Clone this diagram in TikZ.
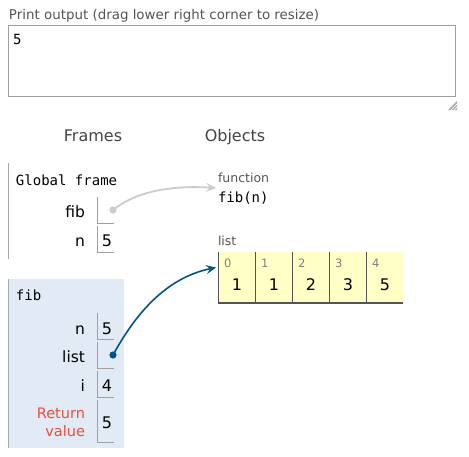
\documentclass[tikz,border=0pt]{standalone}
\usepackage{fontspec}
\setmainfont{DejaVu Sans}
\setmonofont{DejaVu Sans Mono}
\usetikzlibrary{arrows.meta}
\definecolor{hdr}{HTML}{444444}
\definecolor{objlbl}{HTML}{555555}
\definecolor{idx}{HTML}{808080}
\definecolor{framebg}{HTML}{E2EAF5}
\definecolor{listbg}{HTML}{FFFFC6}
\definecolor{cellln}{HTML}{A0A0A0}
\definecolor{listln}{HTML}{555555}
\definecolor{ptrblue}{HTML}{005583}
\definecolor{ptrgray}{HTML}{CCCCCC}
\definecolor{retred}{HTML}{E8503A}
\definecolor{framebar}{HTML}{AAAAAA}
\begin{document}
\begin{tikzpicture}[x=1pt,y=-1pt,
  txt/.style={inner sep=0pt, outer sep=0pt},
  hdrtxt/.style={txt, text=hdr, font=\fontsize{16}{19}\selectfont, anchor=base},
  vlabel/.style={txt, anchor=base east, font=\fontsize{15.5}{18}\selectfont},
  vval/.style={txt, anchor=base, font=\fontsize{16}{19}\selectfont},
  monotxt/.style={txt, anchor=base west, font=\ttfamily\fontsize{14}{17}\selectfont},
  objtxt/.style={txt, anchor=base west, text=objlbl, font=\fontsize{12.5}{15}\selectfont},
  idxtxt/.style={txt, anchor=base west, text=idx, font=\fontsize{11.5}{14}\selectfont},
  cellline/.style={draw=cellln, line width=1pt},
  listline/.style={draw=listln, line width=1.2pt},
  grayptr/.style={draw=ptrgray, line width=1.8pt, -{Stealth[length=10pt,width=9pt,inset=4pt]}},
  blueptr/.style={draw=ptrblue, line width=1.6pt, -{Stealth[length=10pt,width=9pt,inset=4pt]}},
]
\useasboundingbox (0,0) rectangle (469,456);
\fill[white] (0,0) rectangle (469,456);

% print output
\node[txt, anchor=base west, text=objlbl, font=\fontsize{13.4}{16}\selectfont] (ptitle) at (9,19) {Print output (drag lower right corner to resize)};
\draw[draw=cellln, line width=1pt] (8.5,25.5) rectangle (455,96.5);
\node[monotxt] (pout) at (13,44) {5};
\fill[gray!70] (457,101) -- (457,110) -- (448,110) -- cycle;
\foreach \d in {2,5}{
  \draw[draw=white, line width=0.7pt] (458,101+\d) -- (449+\d,110);
}

% headers
\node[hdrtxt] (frames) at (93,141) {Frames};
\node[hdrtxt] (objects) at (235,141) {Objects};

% global frame
\draw[draw=framebar, line width=1pt] (8,163) -- (8,259);
\node[monotxt] (gtitle) at (16,185) {Global frame};
\node[vlabel] (gfibl) at (85,217) {fib};
\draw[cellline] (97.5,197) |- (114,223);
\node[vlabel] (gnl) at (85,246) {n};
\draw[cellline] (97.5,226) |- (114,252);
\node[vval] (gnv) at (107,246) {5};
\coordinate (gdot) at (113,210);

% function object
\node[objtxt] (funclbl) at (218,182.5) {function};
\node[monotxt] (funcname) at (218,202) {fib(n)};
\coordinate (functip) at (216,188);

% list object
\node[objtxt] (listlbl) at (218,245.5) {list};
\fill[listbg] (218,252) rectangle (402.5,303);
\draw[listline] (218.5,252) -- (218.5,303) -- (402.5,303);
\foreach \k in {1,2,3,4}{
  \draw[listline] (218.5+\k*37,252) -- (218.5+\k*37,303);
}
\foreach \k/\v in {0/1,1/1,2/2,3/3,4/5}{
  \node[idxtxt] (idx\k) at (224+\k*37,267) {\k};
  \node[vval] (lv\k) at (237+\k*37,290) {\v};
}
\coordinate (listtip) at (216,267.5);

% fib frame
\fill[framebg] (8,279) rectangle (124,448);
\draw[draw=framebar, line width=1pt] (8,279) -- (8,448);
\node[monotxt] (ftitle) at (16,300) {fib};
\node[vlabel] (fnl) at (85,334) {n};
\draw[cellline] (97.5,313) |- (114,339);
\node[vval] (fnv) at (107,334) {5};
\node[vlabel] (flistl) at (85,362) {list};
\draw[cellline] (97.5,342) |- (114,368);
\coordinate (fdot) at (113,355);
\node[vlabel] (fil) at (85,391) {i};
\draw[cellline] (97.5,371) |- (114,397);
\node[vval] (fiv) at (107,391) {4};
\node[txt, anchor=base east, text=retred, font=\fontsize{14.5}{17}\selectfont] (fret1) at (85,418) {Return};
\node[txt, anchor=base east, text=retred, font=\fontsize{14.5}{17}\selectfont] (fret2) at (85,436) {value};
\draw[cellline] (97.5,400) |- (114,442);
\node[vval] (frv) at (107,428) {5};

% pointers
\draw[grayptr] (gdot) .. controls (135,192) and (170,185) .. (functip);
\fill[ptrgray] (gdot) circle (3.6);
\draw[blueptr] (fdot) .. controls (135,315) and (165,278) .. (listtip);
\fill[ptrblue] (fdot) circle (3.6);
\end{tikzpicture}
\end{document}
